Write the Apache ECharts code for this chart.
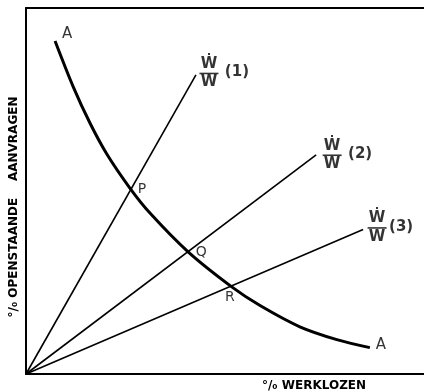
<!DOCTYPE html>
<html>
<head>
<meta charset="utf-8">
<script src="https://cdn.jsdelivr.net/npm/echarts@6/dist/echarts.min.js"></script>
<style>html,body{margin:0;padding:0;background:#fff;overflow:hidden}#c{width:424px;height:392px}</style>
</head>
<body>
<div id="c"></div>
<script>
// Curve A-A (x = % werklozen, y = % openstaande aanvragen), arbitrary 0-100 units
var curveX = [7.3, 11.9, 16.1, 20.3, 26.1, 31.2, 40.8, 51.7, 58.8, 68.8, 78.1, 86.4];
var curveY = [91.0, 78.4, 68.5, 60.1, 50.8, 43.9, 33.3, 23.8, 18.7, 12.9, 9.4, 7.2];
// Rays from origin: end points
var rayNames = ['(1)', '(2)', '(3)'];
var rayEndX = [42.7, 72.9, 84.7];
var rayEndY = [81.7, 59.9, 39.5];
// Intersection points
var pointNames = ['P', 'Q', 'R'];
var pointX = [26.1, 40.8, 51.7];
var pointY = [50.8, 33.3, 23.8];
var xTitle = '°/₀ WERKLOZEN';
var yTitle = '°/₀ OPENSTAANDE    AANVRAGEN';

var FONT = 'DejaVu Sans';
var chart = echarts.init(document.getElementById('c'), null, {renderer: 'canvas'});

var series = [];
// curve
series.push({
  type: 'line', name: 'AA', smooth: 0.3, symbol: 'none', silent: true,
  data: curveX.map(function (x, i) { return [x, curveY[i]]; }),
  lineStyle: {color: '#000', width: 3}
});
// rays
rayNames.forEach(function (n, i) {
  series.push({
    type: 'line', name: n, symbol: 'none', silent: true,
    data: [[0, 0], [rayEndX[i], rayEndY[i]]],
    lineStyle: {color: '#000', width: 1.6}
  });
});
var baseLabel = {
  show: true, position: 'inside', align: 'center', verticalAlign: 'middle',
  color: '#000', textBorderWidth: 0, textBorderColor: 'transparent'
};
// ray labels
var fracOff = [[13, -2], [16, 0], [14, -2]];
var numOff = [[41, -3], [44, -1], [38, -2]];
var fracData = [], numData = [];
rayNames.forEach(function (n, i) {
  fracData.push({value: [rayEndX[i], rayEndY[i]], label: {offset: fracOff[i]}});
  numData.push({value: [rayEndX[i], rayEndY[i]], name: n, label: {offset: numOff[i]}});
});
series.push({
  type: 'scatter', symbolSize: 0, silent: true, data: fracData,
  label: Object.assign({}, baseLabel, {
    formatter: '{n|Ẇ}\n{b|}\n{d|W}',
    rich: {
      n: {fontFamily: FONT, fontSize: 15, fontWeight: 'bold', lineHeight: 15, color: '#000', align: 'center', textBorderWidth: 0},
      b: {width: 19, height: 1.6, backgroundColor: '#000', lineHeight: 4, align: 'center'},
      d: {fontFamily: FONT, fontSize: 15, fontWeight: 'bold', lineHeight: 14, color: '#000', align: 'center', textBorderWidth: 0}
    }
  })
});
series.push({
  type: 'scatter', symbolSize: 0, silent: true, data: numData,
  label: Object.assign({}, baseLabel, {
    formatter: function (p) { return p.name; },
    fontFamily: FONT, fontSize: 15, fontWeight: 'bold'
  })
});
// P Q R labels
var ptOff = [[12, 1], [13, 0], [-2, 10]];
series.push({
  type: 'scatter', symbolSize: 0, silent: true,
  data: pointNames.map(function (n, i) {
    return {value: [pointX[i], pointY[i]], name: n, label: {offset: ptOff[i]}};
  }),
  label: Object.assign({}, baseLabel, {
    formatter: function (p) { return p.name; },
    fontFamily: FONT, fontSize: 14
  })
});
// A labels at curve ends
var last = curveX.length - 1;
series.push({
  type: 'scatter', symbolSize: 0, silent: true,
  data: [
    {value: [curveX[0], curveY[0]], name: 'A', label: {offset: [12, -7]}},
    {value: [curveX[last], curveY[last]], name: 'A', label: {offset: [11, -3]}}
  ],
  label: Object.assign({}, baseLabel, {
    formatter: function (p) { return p.name; },
    fontFamily: FONT, fontSize: 15
  })
});

var axisCommon = {
  type: 'value', min: 0, max: 100,
  axisTick: {show: false}, axisLabel: {show: false}, splitLine: {show: false}
};

chart.setOption({
  animation: false,
  backgroundColor: '#fff',
  grid: {left: 26, right: 0, top: 8, bottom: 18},
  xAxis: [
    Object.assign({}, axisCommon, {position: 'bottom', axisLine: {show: true, onZero: false, lineStyle: {color: '#000', width: 2}}}),
    Object.assign({}, axisCommon, {position: 'top', axisLine: {show: true, onZero: false, lineStyle: {color: '#000', width: 2}}})
  ],
  yAxis: Object.assign({}, axisCommon, {axisLine: {show: true, onZero: false, lineStyle: {color: '#000', width: 2}}}),
  graphic: [
    {type: 'text', x: 314, y: 386, silent: true,
      style: {text: xTitle, font: 'bold 12px "DejaVu Sans"', fill: '#000', align: 'center', verticalAlign: 'middle'}},
    {type: 'text', x: 14, y: 207, rotation: Math.PI / 2, silent: true,
      style: {text: yTitle, font: 'bold 12px "DejaVu Sans"', fill: '#000', align: 'center', verticalAlign: 'middle'}}
  ],
  series: series
});
</script>
</body>
</html>
